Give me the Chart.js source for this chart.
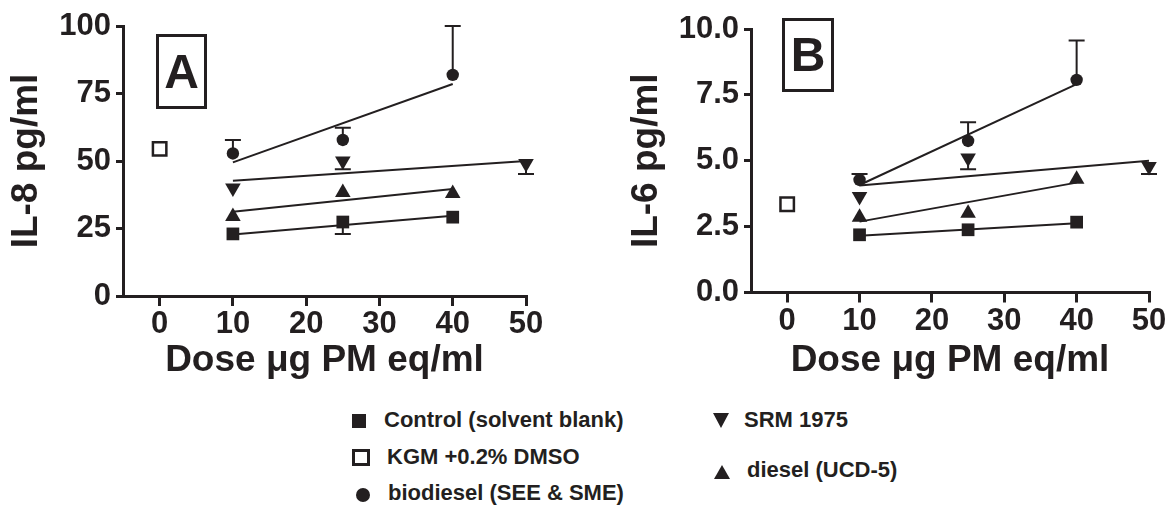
<!DOCTYPE html>
<html>
<head>
<meta charset="utf-8">
<script src="https://cdn.jsdelivr.net/npm/chart.js@4.4.0/dist/chart.umd.min.js"></script>
<style>
  html, body { margin: 0; padding: 0; background: #fff; overflow: hidden; }
  body { width: 1167px; height: 506px; position: relative; font-family: "Liberation Sans", Arial, sans-serif; font-weight: bold; color: #231f20; }
  canvas { position: absolute; top: 0; }
  #chartA { left: 0; }
  #chartB { left: 590px; }
  .panel-label { position: absolute; box-sizing: border-box; border: 3px solid #231f20; font-size: 48px; line-height: 48px; display: flex; align-items: center; justify-content: center; }
  .legend-text { position: absolute; font-size: 22px; line-height: 22px; white-space: nowrap; }
  .mk { position: absolute; box-sizing: border-box; }
  .sq { width: 14px; height: 14px; background: #231f20; }
  .sq-open { width: 18px; height: 17px; border: 3px solid #231f20; }
  .dot { width: 14px; height: 14px; border-radius: 50%; background: #231f20; }
  .tri-down { width: 0; height: 0; border-left: 8px solid transparent; border-right: 8px solid transparent; border-top: 15px solid #231f20; }
  .tri-up { width: 0; height: 0; border-left: 8px solid transparent; border-right: 8px solid transparent; border-bottom: 14px solid #231f20; }
</style>
</head>
<body>
<canvas id="chartA" width="590" height="390"></canvas>
<canvas id="chartB" width="600" height="390"></canvas>

<div class="panel-label" style="left:156px; top:34px; width:51px; height:75px;">A</div>
<div class="panel-label" style="left:782px; top:18px; width:52px; height:74px;">B</div>

<div class="mk sq" style="left:352px; top:414px;"></div>
<div class="legend-text" style="left:384px; top:409px;">Control (solvent blank)</div>
<div class="mk sq-open" style="left:352px; top:449px;"></div>
<div class="legend-text" style="left:387px; top:446px;">KGM +0.2% DMSO</div>
<div class="mk dot" style="left:356px; top:488px;"></div>
<div class="legend-text" style="left:388px; top:482px;">biodiesel (SEE &amp; SME)</div>
<div class="mk tri-down" style="left:713px; top:413px;"></div>
<div class="legend-text" style="left:744px; top:409px;">SRM 1975</div>
<div class="mk tri-up" style="left:714px; top:465px;"></div>
<div class="legend-text" style="left:747px; top:459px;">diesel (UCD-5)</div>

<script>
const ink = '#231f20';
const fontFamily = '"Liberation Sans", Arial, sans-serif';

// doses (µg PM eq/ml)
const doseX = [10, 25, 40];
const srmDoseX = [10, 25, 50];
const kgmDoseX = [0];
const fitX = [10, 40];
const srmFitX = [10, 50];
const doseTicks = [0, 10, 20, 30, 40, 50];

// panel A: IL-8 pg/ml
const il8Control = [23.0, 27.4, 29.2];
const il8ControlErr = [0, 4.4, 0];
const il8Kgm = [54.5];
const il8Bio = [52.8, 57.8, 81.9];
const il8BioErr = [5.0, 4.5, 18.1];
const il8Srm = [40.0, 50.0, 49.1];
const il8SrmErr = [0, 3.1, 3.9];
const il8Diesel = [29.4, 38.3, 38.0];
const il8FitControl = [22.8, 29.7];
const il8FitBio = [49.5, 78.5];
const il8FitSrm = [42.7, 50.0];
const il8FitDiesel = [31.2, 39.6];
const il8Ticks = [0, 25, 50, 75, 100];

// panel B: IL-6 pg/ml
const il6Control = [2.19, 2.38, 2.67];
const il6Kgm = [3.35];
const il6Bio = [4.27, 5.75, 8.07];
const il6BioErr = [0.23, 0.71, 1.49];
const il6Srm = [3.64, 5.10, 4.78];
const il6SrmErr = [0, 0.42, 0.28];
const il6Diesel = [2.86, 3.01, 4.30];
const il6FitControl = [2.15, 2.63];
const il6FitBio = [4.08, 7.91];
const il6FitSrm = [4.06, 5.00];
const il6FitDiesel = [2.69, 4.17];
const il6Ticks = [0, 2.5, 5, 7.5, 10];

const pts = (xs, ys) => xs.map((x, i) => ({ x: x, y: ys[i] }));

// one-sided error bars, errDir 1 = up, -1 = down
const errorBars = {
  id: 'errorBars',
  beforeDatasetsDraw(chart) {
    const { ctx, scales: { x, y } } = chart;
    ctx.save();
    ctx.strokeStyle = ink;
    ctx.lineWidth = 2;
    chart.data.datasets.forEach(ds => {
      if (!ds.err) return;
      ds.data.forEach((p, i) => {
        const e = ds.err[i];
        if (!e) return;
        const px = x.getPixelForValue(p.x);
        const y0 = y.getPixelForValue(p.y);
        const y1 = y.getPixelForValue(p.y + ds.errDir * e);
        ctx.beginPath();
        ctx.moveTo(px, y0);
        ctx.lineTo(px, y1);
        ctx.moveTo(px - 8, y1);
        ctx.lineTo(px + 8, y1);
        ctx.stroke();
      });
    });
    ctx.restore();
  }
};

function marker(data, style, radius, extra) {
  return Object.assign({
    data: data,
    showLine: false,
    pointStyle: style,
    pointRadius: radius,
    pointBackgroundColor: ink,
    pointBorderColor: ink,
    pointBorderWidth: 0,
    clip: false
  }, extra || {});
}

function fitLine(xs, ys) {
  return {
    data: pts(xs, ys),
    showLine: true,
    pointRadius: 0,
    borderColor: ink,
    borderWidth: 2,
    clip: false
  };
}

function makePanel(id, p) {
  const tickFont = { family: fontFamily, size: 31, weight: 'bold' };
  const titleFont = { family: fontFamily, size: 37, weight: 'bold' };
  return new Chart(document.getElementById(id), {
    type: 'scatter',
    data: {
      datasets: [
        marker(pts(doseX, p.control), 'rect', 9, p.controlErr ? { err: p.controlErr, errDir: -1 } : {}),
        marker(pts(kgmDoseX, p.kgm), 'rect', 9.5, { pointBackgroundColor: '#fff', pointBorderWidth: 2.5 }),
        marker(pts(doseX, p.bio), 'circle', 6.2, { err: p.bioErr, errDir: 1 }),
        marker(pts(srmDoseX, p.srm), 'triangle', 9, { pointRotation: 180, err: p.srmErr, errDir: -1 }),
        marker(pts(doseX, p.diesel), 'triangle', 9),
        fitLine(fitX, p.fitControl),
        fitLine(fitX, p.fitBio),
        fitLine(srmFitX, p.fitSrm),
        fitLine(fitX, p.fitDiesel)
      ]
    },
    options: {
      responsive: false,
      animation: false,
      devicePixelRatio: 1,
      layout: { padding: p.padding },
      plugins: { legend: { display: false }, tooltip: { enabled: false } },
      scales: {
        x: {
          type: 'linear',
          min: -5,
          max: 50,
          afterBuildTicks: s => { s.ticks = doseTicks.map(v => ({ value: v })); },
          afterFit: s => { s.height = p.xHeight; },
          border: { display: true, color: ink, width: 3 },
          grid: { display: true, drawOnChartArea: false, drawTicks: true, tickLength: 10, color: ink, lineWidth: 3 },
          ticks: { font: tickFont, color: ink, padding: 0, maxRotation: 0, autoSkip: false },
          title: { display: true, text: 'Dose \u03bcg PM eq/ml', font: titleFont, color: ink, padding: { top: 0, bottom: p.xTitlePad } }
        },
        y: {
          type: 'linear',
          min: 0,
          max: p.yMax,
          afterBuildTicks: s => { s.ticks = p.yTicks.map(v => ({ value: v })); },
          afterFit: s => { s.width = p.yWidth; },
          border: { display: true, color: ink, width: 3 },
          grid: { display: true, drawOnChartArea: false, drawTicks: true, tickLength: 7, color: ink, lineWidth: 3 },
          ticks: { font: tickFont, color: ink, padding: 5, autoSkip: false, callback: p.tickFmt },
          title: { display: true, text: p.yTitle, font: titleFont, color: ink, padding: { top: p.yTitlePad, bottom: 0 } }
        }
      }
    },
    plugins: [errorBars]
  });
}

makePanel('chartA', {
  control: il8Control, controlErr: il8ControlErr, kgm: il8Kgm,
  bio: il8Bio, bioErr: il8BioErr, srm: il8Srm, srmErr: il8SrmErr, diesel: il8Diesel,
  fitControl: il8FitControl, fitBio: il8FitBio, fitSrm: il8FitSrm, fitDiesel: il8FitDiesel,
  yMax: 100, yTicks: il8Ticks, tickFmt: v => String(v),
  yTitle: 'IL-8 pg/ml', yTitlePad: 5, xTitlePad: 7,
  padding: { left: 0, top: 26, right: 64, bottom: 0 },
  yWidth: 123, xHeight: 94
});

makePanel('chartB', {
  control: il6Control, controlErr: null, kgm: il6Kgm,
  bio: il6Bio, bioErr: il6BioErr, srm: il6Srm, srmErr: il6SrmErr, diesel: il6Diesel,
  fitControl: il6FitControl, fitBio: il6FitBio, fitSrm: il6FitSrm, fitDiesel: il6FitDiesel,
  yMax: 10, yTicks: il6Ticks, tickFmt: v => v.toFixed(1),
  yTitle: 'IL-6 pg/ml', yTitlePad: 35, xTitlePad: 7,
  padding: { left: 0, top: 29, right: 41, bottom: 0 },
  yWidth: 161, xHeight: 97.5
});
</script>
</body>
</html>
